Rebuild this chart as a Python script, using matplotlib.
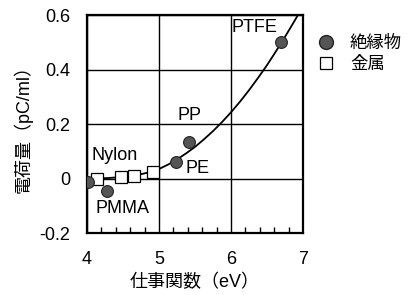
import numpy as np
import matplotlib
matplotlib.use('Agg')
import matplotlib.pyplot as plt
from matplotlib.lines import Line2D

plt.rcParams['font.family'] = ['Liberation Sans', 'Noto Sans CJK JP', 'DejaVu Sans']

# insulators (絶縁物)
ins_x = [4.02, 4.28, 5.24, 5.42, 6.69]
ins_y = [-0.013, -0.044, 0.06, 0.133, 0.50]

# metals (金属)
met_x = [4.14, 4.47, 4.65, 4.92]
met_y = [0.0, 0.005, 0.01, 0.023]

# fitted curve
curve_x = [4.1, 4.3, 4.5, 4.7, 4.85, 5.0, 5.125, 5.25, 5.375, 5.5, 5.625, 5.75, 5.875,
           6.0, 6.125, 6.25, 6.375, 6.5, 6.625, 6.75, 6.85, 6.93]
curve_y = [0.0, 0.002, 0.006, 0.013, 0.022, 0.035, 0.051, 0.070, 0.092, 0.116, 0.144,
           0.174, 0.207, 0.243, 0.282, 0.324, 0.369, 0.416, 0.467, 0.520, 0.564, 0.600]

labels = ['PTFE', 'PP', 'PE', 'Nylon', 'PMMA']
label_x = [6.33, 5.43, 5.54, 4.39, 4.49]
label_y = [0.554, 0.231, 0.037, 0.084, -0.11]

fig = plt.figure(figsize=(4.1, 2.95), dpi=100)
ax = fig.add_axes([0.212, 0.21, 0.527, 0.739])

ax.plot(curve_x, curve_y, color='black', lw=1.3, zorder=2)
ax.plot(met_x, met_y, 's', ms=8, mfc='white', mec='black', mew=0.9, zorder=3)
ax.plot(ins_x, ins_y, 'o', ms=8.5, mfc='#555555', mec='#222222', mew=0.8, zorder=4)

for t, x, y in zip(labels, label_x, label_y):
    ax.text(x, y, t, fontsize=13, ha='center', va='center')

ax.set_xlim(4, 7)
ax.set_ylim(-0.2, 0.6)
ax.set_xticks([4, 5, 6, 7])
ax.set_xticklabels(['4', '5', '6', '7'])
ax.set_yticks([-0.2, 0, 0.2, 0.4, 0.6])
ax.set_yticklabels(['-0.2', '0', '0.2', '0.4', '0.6'])
ax.set_xticks(np.arange(4.2, 7, 0.2), minor=True)
ax.tick_params(axis='x', which='major', length=0, pad=13, labelsize=13)
ax.tick_params(axis='y', which='major', length=0, pad=12, labelsize=13)
ax.tick_params(axis='x', which='minor', direction='in', length=4, width=1)
ax.grid(True, which='major', color='black', lw=1)
for s in ax.spines.values():
    s.set_linewidth(1.6)

ax.set_xlabel('仕事関数（eV）', fontsize=13, labelpad=4)
ax.set_ylabel('電荷量（pC/ml）', fontsize=13, labelpad=5)

handles = [Line2D([], [], ls='none', marker='o', ms=10, mfc='#555555', mec='#222222'),
           Line2D([], [], ls='none', marker='s', ms=8.5, mfc='white', mec='black', mew=0.9)]
fig.legend(handles, ['絶縁物', '金属'], loc='upper left', bbox_to_anchor=(0.752, 0.91),
           frameon=False, fontsize=12.5, handletextpad=0.9, labelspacing=0.25,
           handlelength=1.0, borderpad=0)

fig.savefig('out.png', dpi=100)
